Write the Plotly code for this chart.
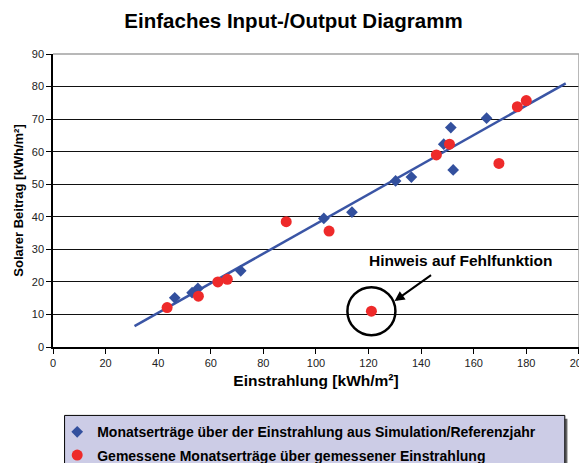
import plotly.graph_objects as go

# Simulation / Referenzjahr (blaue Rauten)
sim_x = [46.3, 52.9, 55.1, 71.4, 103.0, 113.7, 130.3, 136.3, 148.6, 151.3, 152.2, 164.9]
sim_y = [15.1, 16.7, 18.0, 23.4, 39.5, 41.4, 51.0, 52.2, 62.3, 67.4, 54.4, 70.3]

# Gemessene Werte (rote Punkte)
mess_x = [43.4, 55.3, 62.7, 66.3, 88.7, 105.0, 121.1, 145.8, 150.8, 169.6, 176.6, 180.0]
mess_y = [12.1, 15.6, 20.0, 20.8, 38.5, 35.6, 11.0, 59.0, 62.3, 56.4, 73.8, 75.7]

# Trendlinie
trend_x = [31.0, 195.0]
trend_y = [6.4, 81.0]

# Hinweis: Ausreißer und Pfeil
fehler_x, fehler_y = 121.1, 11.0
pfeil_x, pfeil_y = 129.9, 14.1
hinweis_x, hinweis_y = 155.0, 26.7

x_ticks = [0, 20, 40, 60, 80, 100, 120, 140, 160, 180, 200]
y_ticks = [0, 10, 20, 30, 40, 50, 60, 70, 80, 90]

FONT = 'Liberation Sans, Arial, sans-serif'
BLUE = '#33509E'
RED = '#EE2A2A'

fig = go.Figure()

fig.add_trace(go.Scatter(
    x=trend_x, y=trend_y, mode='lines',
    line=dict(color='#3A55A5', width=2.5),
    showlegend=False, hoverinfo='skip'
))

fig.add_trace(go.Scatter(
    x=sim_x, y=sim_y, mode='markers',
    name='<b>Monatserträge über der Einstrahlung aus Simulation/Referenzjahr</b>',
    marker=dict(symbol='diamond', size=9, color=BLUE),
    legendgroup='a'
))

fig.add_trace(go.Scatter(
    x=mess_x, y=mess_y, mode='markers',
    name='<b>Gemessene Monatserträge über gemessener Einstrahlung</b>',
    marker=dict(symbol='circle', size=11, color=RED),
    legendgroup='b'
))

# Kreis um die Fehlfunktion
fig.add_shape(
    type='circle', xref='x', yref='y',
    xsizemode='pixel', ysizemode='pixel',
    xanchor=fehler_x, yanchor=fehler_y,
    x0=-24, x1=24, y0=-24, y1=24,
    line=dict(color='black', width=2.5)
)

# Rahmen oben / rechts (grau)
fig.add_shape(type='line', xref='paper', yref='paper', x0=0, x1=1, y0=1, y1=1,
              line=dict(color='#A0A0A0', width=1.5), layer='above')
fig.add_shape(type='line', xref='paper', yref='paper', x0=1, x1=1, y0=0, y1=1,
              line=dict(color='#A0A0A0', width=1.5), layer='above')

# Legendenkasten mit Schatten
fig.add_shape(type='rect', xref='paper', yref='paper',
              x0=0.028, x1=0.978, y0=-0.245, y1=-0.45,
              line=dict(width=0), fillcolor='#666666')
fig.add_shape(type='rect', xref='paper', yref='paper',
              x0=0.022, x1=0.973, y0=-0.2335, y1=-0.45,
              line=dict(color='black', width=1), fillcolor='#CCCCE6')

fig.add_annotation(
    x=pfeil_x, y=pfeil_y, ax=38, ay=-27, text='',
    showarrow=True, arrowhead=2, arrowsize=1, arrowwidth=2, arrowcolor='black'
)
fig.add_annotation(
    x=hinweis_x, y=hinweis_y, text='<b>Hinweis auf Fehlfunktion</b>',
    showarrow=False, font=dict(family=FONT, size=15.5, color='black')
)

# Die Seite hat 8px Rand, daher alles um 8px nach links/oben versetzt.
fig.update_layout(
    width=587, height=463,
    margin=dict(l=45, r=16, t=46, b=124, autoexpand=False),
    paper_bgcolor='white', plot_bgcolor='white',
    font=dict(family=FONT, color='black'),
    title=dict(
        text='<b>Einfaches Input-/Output Diagramm</b>',
        x=(293.5 - 8) / 587, xanchor='center', y=1 - 13 / 463, yanchor='middle',
        font=dict(family=FONT, size=20.5, color='black')
    ),
    legend=dict(
        x=0.008, xanchor='left', y=-0.2363, yanchor='top',
        bgcolor='rgba(0,0,0,0)', borderwidth=0,
        font=dict(family=FONT, size=14, color='black'),
        tracegroupgap=2
    ),
    showlegend=True
)

fig.update_xaxes(
    range=[0, 200.05], tickvals=x_ticks, automargin=False,
    ticklabeloverflow='allow',
    showgrid=False, zeroline=False,
    showline=True, linecolor='black', linewidth=1.5,
    ticks='outside', ticklen=5, tickcolor='black',
    tickfont=dict(family=FONT, size=11, color='#222222'),
    title=dict(text='<b>Einstrahlung [kWh/m²]</b>', standoff=7,
               font=dict(family=FONT, size=15.5, color='black'))
)
fig.update_yaxes(
    range=[0, 90], tickvals=y_ticks, automargin=False,
    showgrid=True, gridcolor='#111111', gridwidth=1, zeroline=False,
    showline=True, linecolor='black', linewidth=1.5,
    ticks='outside', ticklen=5, tickcolor='black',
    tickfont=dict(family=FONT, size=11, color='#222222'),
    title=dict(text='<b>Solarer Beitrag [kWh/m²]</b>', standoff=5,
               font=dict(family=FONT, size=13, color='black'))
)

fig.write_html('out.html')
